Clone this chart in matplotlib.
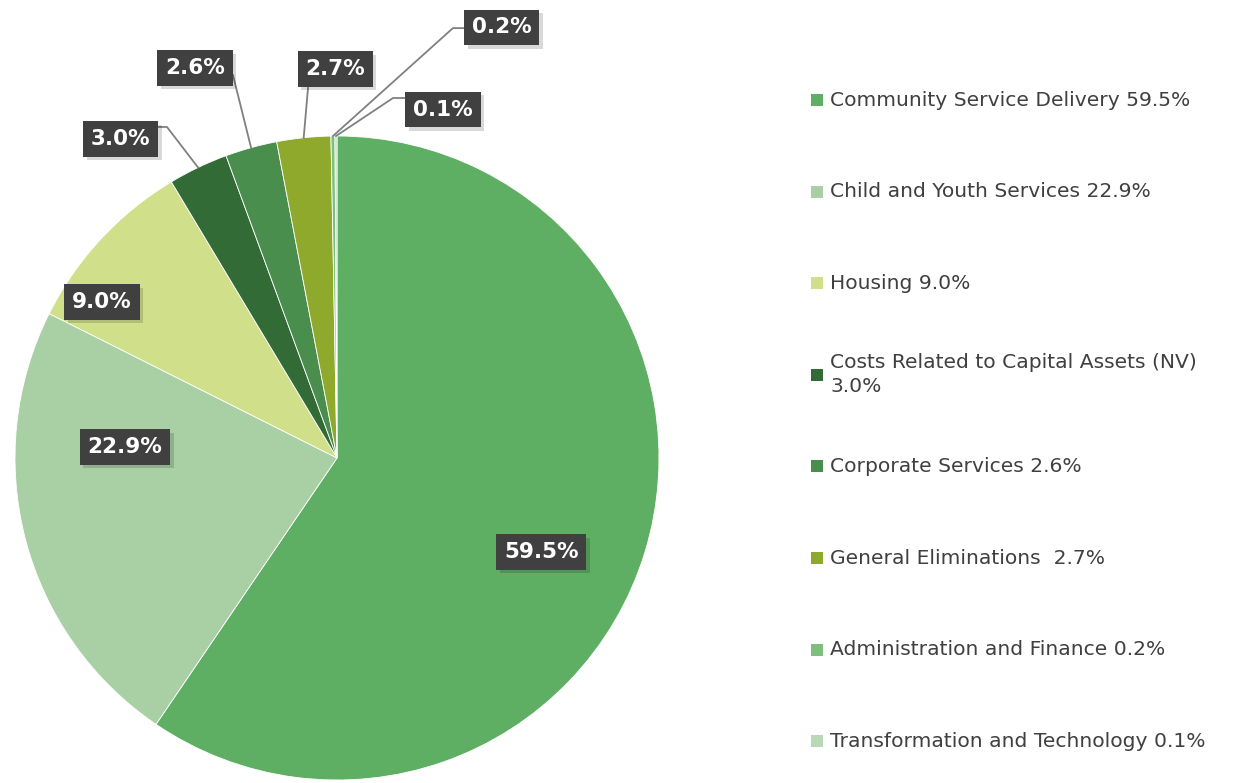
import numpy as np
import matplotlib.pyplot as plt
from matplotlib.patches import Rectangle
import matplotlib.patheffects as pe

plt.rcParams['font.family'] = ['DejaVu Sans']

# data
categories = ["Community Service Delivery", "Child and Youth Services", "Housing",
              "Costs Related to Capital Assets (NV)", "Corporate Services",
              "General Eliminations", "Administration and Finance",
              "Transformation and Technology"]
shares = [59.5, 22.9, 9.0, 3.0, 2.6, 2.7, 0.2, 0.1]
legend_labels = ["Community Service Delivery 59.5%", "Child and Youth Services 22.9%",
                 "Housing 9.0%", "Costs Related to Capital Assets (NV)\n3.0%",
                 "Corporate Services 2.6%", "General Eliminations  2.7%",
                 "Administration and Finance 0.2%", "Transformation and Technology 0.1%"]
colors = ["#5EAF63", "#A9CFA5", "#D0E08A", "#336B37", "#4A8E4D", "#8FA92D",
          "#7DBF7D", "#B8D8B6"]

# label box centres (data coords) and leader line points from the box
label_pos = [(0.634, -0.292), (-0.658, 0.034), (-0.730, 0.484), (-0.672, 0.991),
             (-0.441, 1.211), (-0.006, 1.208), (0.512, 1.337), (0.329, 1.082)]
leaders = [None, None, None,
           [(-0.559, 1.028), (-0.528, 1.028)],
           [(-0.323, 1.189)],
           [(-0.090, 1.149)],
           [(0.394, 1.335), (0.360, 1.335)],
           [(0.211, 1.118), (0.174, 1.118)]]

W, H = 1237, 783
fig = plt.figure(figsize=(W / 100, H / 100), dpi=100)
cx, cy, r = 337, 458, 322
ax = fig.add_axes([(cx - r) / W, (H - cy - r) / H, 2 * r / W, 2 * r / H])

wedges, _ = ax.pie(shares, colors=colors, startangle=90, counterclock=False,
                   radius=1, wedgeprops=dict(edgecolor='white', linewidth=0.6))
ax.set_xlim(-1, 1)
ax.set_ylim(-1, 1)
ax.set_aspect('equal')
ax.axis('off')

for i, w in enumerate(wedges):
    mid = np.deg2rad((w.theta1 + w.theta2) / 2)
    if leaders[i] is not None:
        pts = leaders[i] + [(np.cos(mid), np.sin(mid))]
        xs, ys = zip(*pts)
        ax.plot(xs, ys, color='#808080', lw=1.3, clip_on=False, zorder=3)
    t = ax.text(label_pos[i][0], label_pos[i][1], f"{shares[i]:.1f}%",
                ha='center', va='center', color='white', fontsize=15.5,
                fontweight='bold', zorder=5, clip_on=False,
                bbox=dict(boxstyle='square,pad=0.36', fc='#404040', ec='none'))
    t.get_bbox_patch().set_path_effects([
        pe.SimplePatchShadow(offset=(2.5, -2.5), shadow_rgbFace='black', alpha=0.15),
        pe.Normal()])

# legend
pitch = 91.6
for i, lab in enumerate(legend_labels):
    ytop = 100 + i * pitch
    fig.patches.append(Rectangle((811 / W, 1 - (ytop + 6) / H), 12 / W, 12 / H,
                                 transform=fig.transFigure, fc=colors[i], ec='none'))
    fig.text(830 / W, 1 - ytop / H, lab, ha='left', va='center', fontsize=14.6,
             color='#404040', linespacing=1.35)

fig.savefig("out.png", dpi=100)
